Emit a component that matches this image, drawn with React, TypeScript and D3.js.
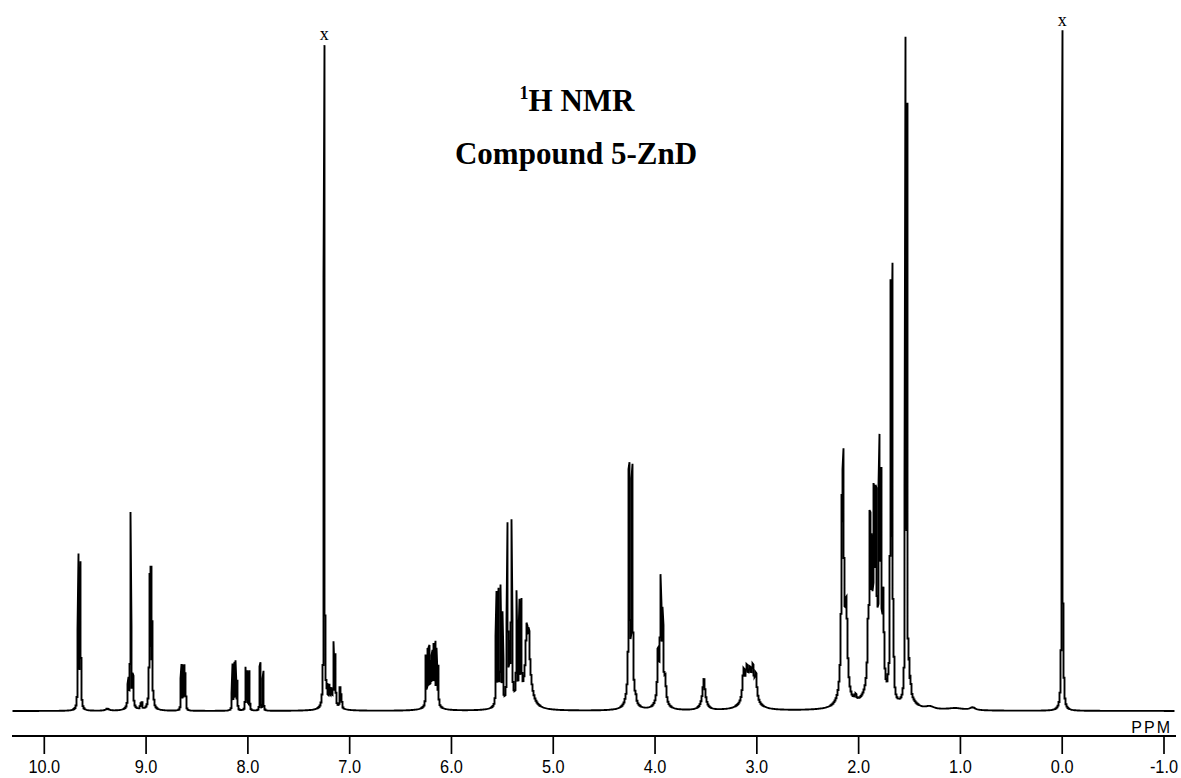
import React, { useMemo } from "react";
import * as d3 from "d3";

// ---- axis ----
const tickValues = [10, 9, 8, 7, 6, 5, 4, 3, 2, 1, 0, -1];
const tickLabels = ["10.0", "9.0", "8.0", "7.0", "6.0", "5.0", "4.0", "3.0", "2.0", "1.0", "0.0", "-1.0"];
const axisUnit = "PPM";
const titleNucleus = "1";
const titleMain = "H NMR";
const titleCompound = "Compound 5-ZnD";

// ---- resolved lines: position (ppm), apex intensity (% of full scale), half width (ppm) ----
const linePpm = [
  9.665, 9.645, 9.175, 9.152, 9.13, 9.055, 9.04,
  8.965, 8.952, 8.94, 8.925,
  8.655, 8.64, 8.625, 8.612,
  8.152, 8.135, 8.12, 8.105,
  8.022, 8.006, 7.986,
  7.88, 7.85,
  7.265, 7.25, 7.235, 7.22, 7.2, 7.18, 7.157, 7.14, 7.095, 7.08,
  6.25, 6.235, 6.22, 6.205, 6.19, 6.175, 6.16, 6.145, 6.13,
  5.56, 5.54, 5.517, 5.497,
  5.45, 5.43, 5.41,
  5.36, 5.334, 5.314,
  5.262, 5.24,
  4.29, 4.255, 4.225, 4.19,
  3.97, 3.945, 3.925, 3.9,
  3.52,
  3.13, 3.1, 3.07, 3.04, 3.01,
  2.165, 2.151, 2.12, 2.03,
  1.905, 1.889, 1.872, 1.85, 1.83, 1.797, 1.78, 1.758,
  1.71, 1.686, 1.67, 1.653,
  1.54, 1.525, 1.505, 1.49,
  0.012, 0.0, -0.012,
];
const lineHeight = [
  23.2, 22.0, 5.0, 29.4, 5.6, 1.3, 1.3,
  20.3, 21.3, 13.4, 2.1,
  6.9, 6.9, 6.9, 5.7,
  7.0, 7.2, 7.5, 4.6,
  6.5, 6.0, 6.0,
  7.2, 5.9,
  5.1, 97.9, 5.7, 4.1, 4.0, 3.5, 10.3, 8.5, 3.5, 2.6,
  8.2, 9.3, 9.7, 7.5, 9.0, 10.0, 10.4, 9.3, 6.8,
  17.8, 18.1, 18.6, 14.7,
  27.8, 10.4, 28.2,
  17.9, 16.6, 16.6,
  12.9, 12.2,
  2.2, 36.6, 36.3, 2.8,
  9.4, 20.1, 15.3, 5.3,
  4.7,
  6.3, 6.9, 6.6, 7.0, 5.7,
  31.7, 38.6, 16.6, 2.6,
  15.3, 29.5, 26.1, 33.5, 33.2, 40.7, 35.7, 18.2,
  5.6, 63.6, 65.8, 8.2,
  99.6, 89.7, 7.9, 5.3,
  8.8, 100, 11.0,
];
const lineWidth = [
  0.004, 0.004, 0.005, 0.003, 0.005, 0.004, 0.004,
  0.004, 0.003, 0.003, 0.004,
  0.003, 0.003, 0.003, 0.003,
  0.003, 0.003, 0.003, 0.003,
  0.003, 0.003, 0.003,
  0.003, 0.003,
  0.004, 0.003, 0.004, 0.004, 0.004, 0.004, 0.003, 0.003, 0.004, 0.004,
  0.003, 0.003, 0.003, 0.003, 0.003, 0.003, 0.003, 0.003, 0.003,
  0.003, 0.003, 0.003, 0.003,
  0.004, 0.004, 0.004,
  0.003, 0.003, 0.003,
  0.008, 0.008,
  0.006, 0.005, 0.005, 0.006,
  0.008, 0.005, 0.006, 0.01,
  0.01,
  0.012, 0.012, 0.012, 0.012, 0.012,
  0.006, 0.006, 0.012, 0.01,
  0.008, 0.005, 0.005, 0.005, 0.005, 0.005, 0.005, 0.008,
  0.006, 0.004, 0.004, 0.004,
  0.003, 0.003, 0.004, 0.005,
  0.004, 0.003, 0.004,
];

// ---- broad unresolved envelopes under the multiplets ----
const humpPpm = [9.38, 9.15, 8.95, 7.18, 6.19, 5.53, 5.42, 5.34, 5.25, 4.24, 3.94, 3.52, 3.07, 2.145, 1.84, 1.5, 1.3, 1.05, 0.88, 0.0];
const humpHeight = [0.3, 1.0, 1.0, 1.5, 2.5, 1.5, 2.0, 1.5, 8.0, 4.0, 4.0, 2.5, 3.0, 8.0, 12.0, 1.5, 0.4, 0.3, 0.4, 1.0];
const humpWidth = [0.02, 0.03, 0.03, 0.05, 0.04, 0.03, 0.03, 0.03, 0.035, 0.03, 0.03, 0.025, 0.06, 0.03, 0.05, 0.06, 0.05, 0.1, 0.03, 0.02];

// solvent / reference peaks marked with "x"
const markPpm = [7.25, 0.0];
const markLabel = ["x", "x"];

const lor = (v: number, p: number, w: number) => {
  const t = (v - p) / w;
  return 1 / (1 + t * t);
};

export default function App() {
  const W = 1181;
  const H = 778;
  const x = d3.scaleLinear().domain([10, -1]).range([44.3, 1164]);
  const y = d3.scaleLinear().domain([0, 100]).range([711, 30]);
  const axisY = 736;
  const plotLeft = 12;
  const plotRight = 1175;

  const { pathD, markTops } = useMemo(() => {
    const n = linePpm.length;
    const humpAt = (v: number) => {
      let s = 0;
      for (let k = 0; k < humpPpm.length; k++) s += humpHeight[k] * lor(v, humpPpm[k], humpWidth[k]);
      return s;
    };
    // amplitudes so that each line reaches its read apex
    const amp = lineHeight.slice();
    for (let it = 0; it < 60; it++) {
      for (let i = 0; i < n; i++) {
        let other = humpAt(linePpm[i]);
        for (let j = 0; j < n; j++) {
          if (j !== i) other += amp[j] * lor(linePpm[i], linePpm[j], lineWidth[j]);
        }
        amp[i] = Math.max(0, lineHeight[i] - other);
      }
    }
    const spec = (v: number) => {
      let s = humpAt(v);
      for (let i = 0; i < n; i++) s += amp[i] * lor(v, linePpm[i], lineWidth[i]);
      return s;
    };
    const pts: { ppm: number; v: number }[] = [];
    const sub = 14;
    for (let c = plotLeft; c < plotRight; c++) {
      const p0 = x.invert(c);
      const p1 = x.invert(c + 1);
      let mn = Infinity, mx = -Infinity, iMn = 0, iMx = 0;
      for (let s = 0; s <= sub; s++) {
        const val = spec(p0 + ((p1 - p0) * s) / sub);
        if (val < mn) { mn = val; iMn = s; }
        if (val > mx) { mx = val; iMx = s; }
      }
      const pc = x.invert(c + 0.5);
      if (mx - mn < 0.08) {
        pts.push({ ppm: pc, v: (mx + mn) / 2 });
      } else if (iMn < iMx) {
        pts.push({ ppm: pc, v: mn });
        pts.push({ ppm: pc, v: mx });
      } else {
        pts.push({ ppm: pc, v: mx });
        pts.push({ ppm: pc, v: mn });
      }
    }
    const line = d3
      .line<{ ppm: number; v: number }>()
      .x((d) => x(d.ppm))
      .y((d) => y(d.v));
    const tops = markPpm.map((p) => spec(p));
    return { pathD: line(pts) || "", markTops: tops };
  }, []);

  const labelFont = "'Liberation Sans', Arial, sans-serif";
  const serif = "'Liberation Serif', 'Times New Roman', serif";

  return (
    <svg
      width={W}
      height={H}
      style={{ position: "absolute", left: 0, top: 0, background: "#fff" }}
    >
      <rect x={0} y={0} width={W} height={H} fill="#fff" />
      {/* title */}
      <text x={577} y={111} textAnchor="middle" fontFamily={serif} fontWeight="bold" fontSize={31} fill="#000">
        <tspan fontSize={18} dy={-12}>{titleNucleus}</tspan>
        <tspan dy={12}>{titleMain}</tspan>
      </text>
      <text x={576} y={164} textAnchor="middle" fontFamily={serif} fontWeight="bold" fontSize={31} fill="#000">
        {titleCompound}
      </text>

      {/* spectrum */}
      <path d={pathD} fill="none" stroke="#000" strokeWidth={1.9} strokeLinejoin="miter" />

      {/* solvent marks */}
      {markPpm.map((p, i) => (
        <text
          key={"m" + i}
          x={x(p)}
          y={y(markTops[i]) - 4}
          textAnchor="middle"
          fontFamily={serif}
          fontSize={18}
          fill="#000"
        >
          {markLabel[i]}
        </text>
      ))}

      {/* axis */}
      <line x1={plotLeft} x2={plotRight + 1} y1={axisY} y2={axisY} stroke="#000" strokeWidth={1.8} />
      {tickValues.map((t, i) => (
        <g key={"t" + i}>
          <line x1={x(t)} x2={x(t)} y1={axisY} y2={axisY + 18} stroke="#000" strokeWidth={1.7} />
          <text
            transform={`translate(${x(t)},${773}) scale(0.86,1)`}
            textAnchor="middle"
            fontFamily={labelFont}
            fontSize={19}
            fill="#000"
          >
            {tickLabels[i]}
          </text>
        </g>
      ))}
      <text
        x={plotRight - 3}
        y={733}
        textAnchor="end"
        fontFamily={labelFont}
        fontSize={16}
        letterSpacing={2}
        fill="#000"
      >
        {axisUnit}
      </text>
    </svg>
  );
}
